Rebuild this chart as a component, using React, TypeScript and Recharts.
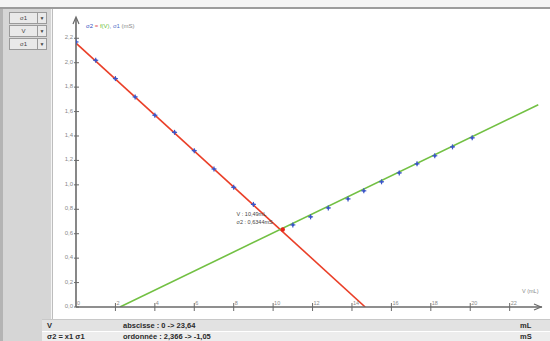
import React from 'react';
import { ComposedChart, Line, Scatter, XAxis, YAxis, ReferenceDot } from 'recharts';

// measured points (V in mL, sigma in mS)
const volumeBefore = [0, 1, 2, 3, 4, 5, 6, 7, 8, 9];
const sigmaBefore = [2.17, 2.02, 1.87, 1.72, 1.57, 1.43, 1.28, 1.13, 0.98, 0.84];
const volumeAfter = [11, 11.9, 12.8, 13.8, 14.6, 15.5, 16.4, 17.3, 18.2, 19.1, 20.1];
const sigmaAfter = [0.672, 0.738, 0.811, 0.885, 0.951, 1.025, 1.098, 1.172, 1.238, 1.311, 1.385];

// modelled straight lines
const fitBeforeV = [0, 14.67];
const fitBeforeS = [2.16, 0];
const fitAfterV = [2.23, 23.45];
const fitAfterS = [0, 1.656];

const xTicks = [0, 2, 4, 6, 8, 10, 12, 14, 16, 18, 20, 22];
const yTicks = [0, 0.2, 0.4, 0.6, 0.8, 1.0, 1.2, 1.4, 1.6, 1.8, 2.0, 2.2];
const crossV = 10.49;
const crossS = 0.634;

const toRows = (v: number[], s: number[]) => v.map((x, i) => ({ v: x, s: s[i] }));

const axisColor = '#6a6a6a';
const tickText = '#8a8a8a';

const YTick = (props: any) => {
  const { x, y, payload } = props;
  return (
    <g>
      <line x1={x - 2} y1={y} x2={x + 3} y2={y} stroke={axisColor} strokeWidth={1} />
      <text x={x - 3} y={y + 1} textAnchor="end" fontSize={6} fill={tickText}>
        {payload.value.toFixed(1).replace('.', ',')}
      </text>
    </g>
  );
};

const XTick = (props: any) => {
  const { x, y, payload } = props;
  return (
    <g>
      {payload.value !== 0 && (
        <line x1={x} y1={y - 4} x2={x} y2={y + 4} stroke={axisColor} strokeWidth={1} />
      )}
      <text x={x + 1} y={y - 2} fontSize={5.5} fill={tickText}>
        {payload.value}
      </text>
    </g>
  );
};

const Plus = (props: any) => {
  const { cx, cy } = props;
  return (
    <g>
      <line x1={cx - 2.5} y1={cy} x2={cx + 2.5} y2={cy} stroke="#3b55c8" strokeWidth={1.2} />
      <line x1={cx} y1={cy - 2.5} x2={cx} y2={cy + 2.5} stroke="#3b55c8" strokeWidth={1.2} />
      <circle cx={cx} cy={cy} r={1.3} fill="#3b55c8" />
    </g>
  );
};

const CrossLabel = (props: any) => {
  const { viewBox } = props;
  const x = viewBox.x ?? viewBox.cx;
  const y = viewBox.y ?? viewBox.cy;
  return (
    <g fontSize={5.5} fill="#444">
      <text x={x - 44} y={y - 11} fill="#444">V : 10,49mL</text>
      <text x={x - 44} y={y - 3} fill="#444">σ2 : 0,6344mS</text>
    </g>
  );
};

const Dropdown = ({ label, top }: { label: string; top: number }) => (
  <div style={{ position: 'absolute', left: 9, top, width: 36, height: 10, border: '1px solid #9a9a9a', background: '#e9e9e9', fontSize: 6, color: '#444' }}>
    <div style={{ position: 'absolute', left: 0, top: 0, width: 27, height: 10, lineHeight: '10px', textAlign: 'center', borderRight: '1px solid #9a9a9a' }}>{label}</div>
    <div style={{ position: 'absolute', left: 28, top: 0, width: 8, height: 10, lineHeight: '10px', textAlign: 'center', fontSize: 5 }}>▼</div>
  </div>
);

export default function App() {
  return (
    <div style={{ position: 'fixed', left: 0, top: 0, width: 550, height: 341, overflow: 'hidden', background: '#f4f4f4', fontFamily: '"Liberation Sans", Arial, sans-serif' }}>
      {/* top border and plot background */}
      <div style={{ position: 'absolute', left: 0, top: 7, width: 550, height: 2, background: '#9c9c9c' }} />
      <div style={{ position: 'absolute', left: 52, top: 9, width: 498, height: 310, background: '#ffffff', borderLeft: '1px solid #bdbdbd' }} />

      <div style={{ position: 'absolute', left: 0, top: 0 }}>
        <ComposedChart width={550} height={341} margin={{ top: 18, right: 8, bottom: 14, left: 56 }}>
          <XAxis
            type="number"
            dataKey="v"
            domain={[0, 23.64]}
            ticks={xTicks}
            tick={<XTick />}
            tickSize={0}
            tickMargin={0}
            height={20}
            axisLine={{ stroke: axisColor, strokeWidth: 1.6 }}
            tickLine={false}
            allowDataOverflow
          />
          <YAxis
            type="number"
            dataKey="s"
            domain={[0, 2.366]}
            ticks={yTicks}
            tick={<YTick />}
            tickSize={0}
            tickMargin={0}
            width={20}
            axisLine={{ stroke: axisColor, strokeWidth: 1.6 }}
            tickLine={false}
            allowDataOverflow
          />
          <Line data={toRows(fitBeforeV, fitBeforeS)} dataKey="s" type="linear" stroke="#ea3f28" strokeWidth={1.6} dot={false} isAnimationActive={false} />
          <Line data={toRows(fitAfterV, fitAfterS)} dataKey="s" type="linear" stroke="#72c043" strokeWidth={1.6} dot={false} isAnimationActive={false} />
          <Scatter data={toRows(volumeBefore, sigmaBefore)} dataKey="s" shape={<Plus />} isAnimationActive={false} />
          <Scatter data={toRows(volumeAfter, sigmaAfter)} dataKey="s" shape={<Plus />} isAnimationActive={false} />
          <ReferenceDot x={crossV} y={crossS} r={2.2} fill="#e8231a" stroke="none" label={<CrossLabel />} />
        </ComposedChart>
      </div>

      {/* axis arrows, axis name, legend */}
      <svg style={{ position: 'absolute', left: 0, top: 0 }} width={550} height={341}>
        <polyline points="73,24 76,17 79,24" fill="none" stroke={axisColor} strokeWidth={1.2} />
        <polyline points="534,304 541,307 534,310" fill="none" stroke={axisColor} strokeWidth={1.2} />
        <text x={522} y={293} fontSize={5.5} fill={tickText}>V (mL)</text>
        <text x={86} y={28} fontSize={6}>
          <tspan fill="#3050c0">σ2</tspan>
          <tspan fill="#e05060"> = </tspan>
          <tspan fill="#70c040">f(V)</tspan>
          <tspan fill="#5070c8">, σ1</tspan>
          <tspan fill="#888"> (mS)</tspan>
        </text>
      </svg>

      {/* left panel */}
      <div style={{ position: 'absolute', left: 0, top: 9, width: 51, height: 332, background: '#d6d6d6', borderLeft: '3px solid #b4b4b4', boxSizing: 'border-box' }} />
      <Dropdown label="σ1" top={12} />
      <Dropdown label="V" top={25} />
      <Dropdown label="σ1" top={38} />

      {/* bottom table */}
      <div style={{ position: 'absolute', left: 42, top: 319, width: 508, height: 11, background: '#e2e2e2', borderTop: '1px solid #c8c8c8', fontSize: 7.5, fontWeight: 'bold', color: '#2a2a2a', lineHeight: '11px' }}>
        <span style={{ position: 'absolute', left: 5 }}>V</span>
        <span style={{ position: 'absolute', left: 81 }}>abscisse : 0 -&gt; 23,64</span>
        <span style={{ position: 'absolute', left: 478 }}>mL</span>
      </div>
      <div style={{ position: 'absolute', left: 42, top: 331, width: 508, height: 10, background: '#ededed', borderTop: '1px solid #ffffff', fontSize: 7.5, fontWeight: 'bold', color: '#2a2a2a', lineHeight: '10px' }}>
        <span style={{ position: 'absolute', left: 5 }}>σ2 = x1 σ1</span>
        <span style={{ position: 'absolute', left: 81 }}>ordonnée : 2,366 -&gt; -1,05</span>
        <span style={{ position: 'absolute', left: 478 }}>mS</span>
      </div>
    </div>
  );
}
